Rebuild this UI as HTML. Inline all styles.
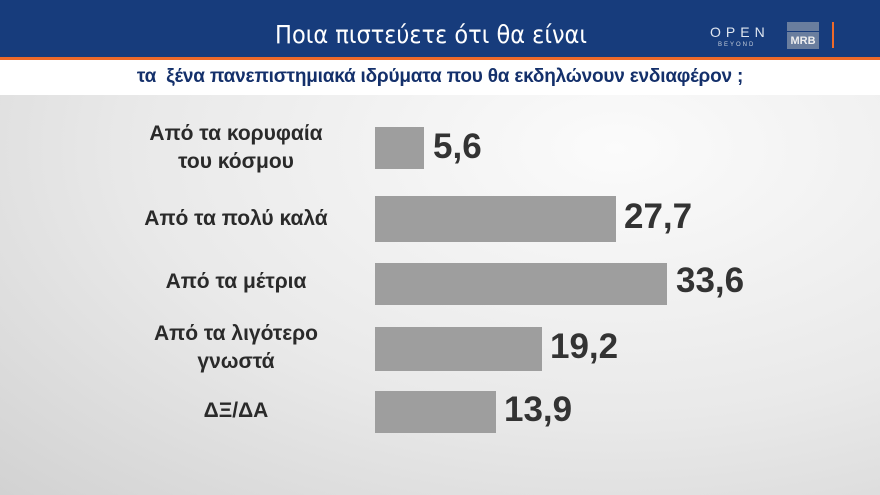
<!DOCTYPE html>
<html><head><meta charset="utf-8"><style>
body{margin:0;width:880px;height:495px;overflow:hidden;font-family:"Liberation Sans","DejaVu Sans",sans-serif;position:relative;background:radial-gradient(ellipse at 70% 30%,#fbfbfb 0%,#e9e9e9 55%,#d2d2d2 100%);}
.hdr{position:absolute;left:0;top:0;width:880px;height:57px;background:#173c7c;}
.or{position:absolute;left:0;top:57px;width:880px;height:3px;background:#ee6a2a;}
.wb{position:absolute;left:0;top:60px;width:880px;height:35px;background:#fff;}
.t1{position:absolute;left:0;width:862px;top:20px;text-align:center;color:#fff;font-size:25px;font-family:"DejaVu Sans Condensed","DejaVu Sans",sans-serif;font-weight:300;}
.t2{position:absolute;left:0;width:880px;top:66px;text-align:center;color:#14306b;font-size:19px;font-weight:bold;letter-spacing:-0.2px;}
.bar{position:absolute;left:375px;background:#9e9e9e;}
.v{position:absolute;font-size:35px;font-weight:bold;color:#333;}
.l{position:absolute;left:116px;width:240px;text-align:center;font-size:21px;font-weight:bold;color:#2a2a2a;line-height:28px;}
</style></head><body>
<div class="hdr"></div><div class="or"></div><div class="wb"></div>
<div class="t1">Ποια πιστεύετε ότι θα είναι</div>
<div style="position:absolute;left:710px;top:24px;color:#dfe6f0;font-size:14px;letter-spacing:5px">OPEN</div>
<div style="position:absolute;left:718px;top:42px;color:#c6cfdc;font-size:6px;letter-spacing:2px">BEYOND</div>
<div style="position:absolute;left:787px;top:22px;width:32px;height:9px;background:#6a7e9e"></div>
<div style="position:absolute;left:787px;top:32px;width:32px;height:17px;background:#6a7e9e;color:#eee;font-size:11px;font-weight:bold;text-align:center;line-height:18px">MRB</div>
<div style="position:absolute;left:832px;top:22px;width:2px;height:26px;background:#ee6a2a"></div>
<div class="t2">τα &nbsp;ξένα πανεπιστημιακά ιδρύματα που θα εκδηλώνουν ενδιαφέρον ;</div>

<div class="l" style="top:120px">Από τα κορυφαία<br>του κόσμου</div>
<div class="bar" style="top:127px;width:49px;height:42px"></div><div class="v" style="left:433px;top:127px">5,6</div>

<div class="l" style="top:205px">Από τα πολύ καλά</div>
<div class="bar" style="top:196px;width:241px;height:46px"></div><div class="v" style="left:624px;top:197px">27,7</div>

<div class="l" style="top:268px">Από τα μέτρια</div>
<div class="bar" style="top:263px;width:292px;height:42px"></div><div class="v" style="left:676px;top:261px">33,6</div>

<div class="l" style="top:320px">Από τα λιγότερο<br>γνωστά</div>
<div class="bar" style="top:327px;width:167px;height:44px"></div><div class="v" style="left:550px;top:327px">19,2</div>

<div class="l" style="top:397px">ΔΞ/ΔΑ</div>
<div class="bar" style="top:391px;width:121px;height:42px"></div><div class="v" style="left:504px;top:390px">13,9</div>
</body></html>
